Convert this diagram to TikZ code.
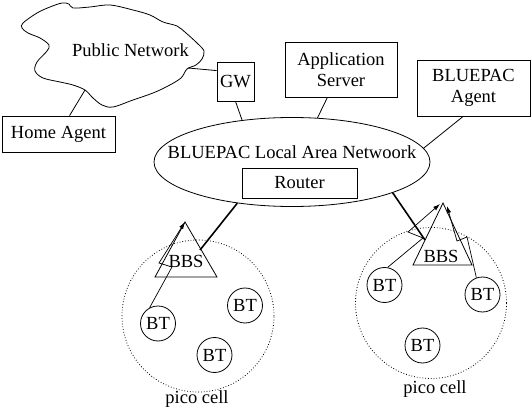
\documentclass[tikz,border=0pt]{standalone}
\usepackage{fontspec}
\setmainfont{Liberation Serif}
\usetikzlibrary{arrows.meta, positioning, shapes.geometric}
\tikzset{
    box/.style={
           rectangle,
           draw=black, line width=0.8pt,
           inner sep=0pt,
           align=center,
           },
    bt/.style={circle, draw=black, line width=0.8pt, inner sep=0pt, minimum size=35pt},
    cell/.style={circle, draw=black, dotted, line width=0.8pt, inner sep=0pt},
    bbs/.style={draw=black, line width=0.8pt, line join=miter},
    radio/.style={draw=black, line width=0.7pt, -{Latex[length=7pt,width=4.5pt]}},
    uplink/.style={draw=black, line width=1.6pt},
}
\newcommand{\lanname}{BLUEPAC Local Area Netwoork}
\newcommand{\picocell}{pico cell}

\begin{document}
\begin{tikzpicture}[x=1pt, y=-1pt, line width=0.8pt, font=\fontsize{18.5}{21}\selectfont]
      \useasboundingbox (0,0) rectangle (531,412);
      % public network cloud
      \draw plot[smooth cycle, tension=0.55] coordinates {
            (23,23) (37,13) (50,7) (62,3) (69,4) (73,8) (90,7) (110,5) (133,10)
            (150,15) (163,22) (177,26) (186,33) (197,43) (204,51) (202,59) (196,65)
            (187,69) (181,78) (168,86) (153,93) (133,100) (113,107) (102,105) (93,98)
            (85,90) (73,85) (60,82) (43,78) (35,71) (37,62) (47,51) (49,45) (40,38)
            (28,33) (22,28)};
      \node (pn) at (130.5,50) {Public Network};
      \coordinate (pnE) at (188,68);
      \coordinate (pnS) at (85,90);
      % boxes
      \node[box, minimum width=113pt, minimum height=36pt] (ha)    at (58.5,134)  {Home Agent};
      \node[box, minimum width=37pt,  minimum height=39pt] (gw)    at (235.5,81.5) {GW};
      \node[box, minimum width=112pt, minimum height=55pt] (app)   at (341,69.5)  {Application\\Server};
      \node[box, minimum width=113pt, minimum height=56pt] (agent) at (473.5,88)  {BLUEPAC\\Agent};
      \node[ellipse, draw=black, inner sep=0pt, minimum width=276pt, minimum height=89pt] (lan) at (292,162) {};
      \node (lantxt) at (292,152) {\lanname};
      \node[box, minimum width=115pt, minimum height=30pt] (router) at (299.5,183) {Router};
      \draw (pnE) -- (gw.150);
      \draw (pnS) -- (ha);
      \draw (gw.south) -- (lan.140);
      \draw (lan.60) -- (app);
      \draw (lan.6.5) -- (agent.250);
      % left pico cell
      \node[cell, minimum size=152pt] (lcell) at (198,316) {};
      \node (lcelltxt) at (197,399) {\picocell};
      \coordinate (lapex) at (185,222);
      \coordinate (lhit) at (200,250);
      \draw[bbs] (lapex) -- (155,277) -- (217,277) -- cycle;
      \node (lbbs) at (186,261.5) {BBS};
      \node[bt] (lbt1) at (158,323.5) {BT};
      \node[bt] (lbt2) at (245,305.5) {BT};
      \node[bt] (lbt3) at (214.5,355) {BT};
      \draw[uplink] (lan.217) -- (lhit);
      \draw[radio] (lbt1.118) -- (172,267) -- (159,263) -- (lapex);
      % right pico cell
      \node[cell, minimum size=151pt] (rcell) at (431,303) {};
      \node (rcelltxt) at (435,389) {\picocell};
      \coordinate (rapex) at (443,203);
      \coordinate (rtipL) at (440,204);
      \coordinate (rtipR) at (447,206);
      \coordinate (rhit) at (425,240);
      \draw[bbs] (rapex) -- (413,265) -- (472,265) -- cycle;
      \node (rbbs) at (441,256.5) {BBS};
      \node[bt] (rbt1) at (384.5,285) {BT};
      \node[bt] (rbt2) at (482.5,294.5) {BT};
      \node[bt] (rbt3) at (422.5,345.5) {BT};
      \draw[uplink] (lan.343.5) -- (rhit);
      \draw[radio] (rbt1.80) -- (423,238) -- (408,232) -- (rtipL);
      \draw[radio] (rbt2.110) -- (467,237) -- (457,241) -- (rtipR);
\end{tikzpicture}
\end{document}
